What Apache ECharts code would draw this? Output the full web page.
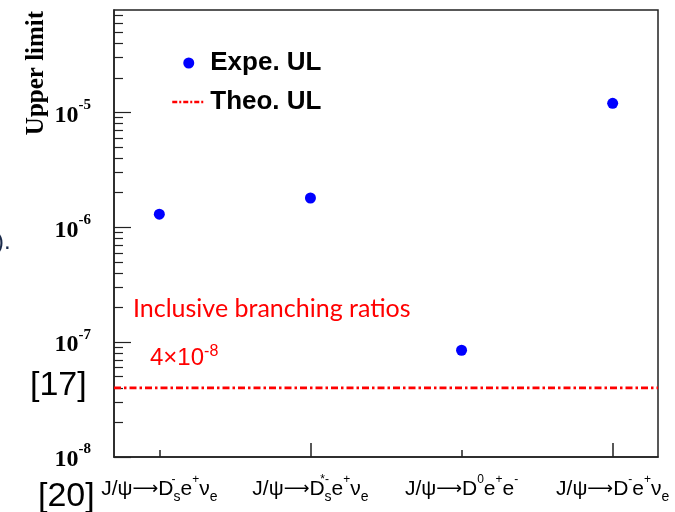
<!DOCTYPE html>
<html><head><meta charset="utf-8">
<script src="https://cdn.jsdelivr.net/npm/echarts@6/dist/echarts.min.js"></script>
<style>html,body{margin:0;padding:0;background:#fff}#c{width:675px;height:512px}</style>
</head><body><div id="c"></div>
<script>
// ---- data ----
const categoryLabels = [
  'J/ψ{ar|⟶}D{sp0|-}{sb|s}e{sp|+}ν{sb|e}',
  'J/ψ{ar|⟶}D{sp0|*-}{sb|s}e{sp|+}ν{sb|e}',
  'J/ψ{ar|⟶}D{sp|0}e{sp|+}e{sp|-}',
  'J/ψ{ar|⟶}D{sp|-}e{sp|+}ν{sb|e}'
];
const categoryPositions = [1, 2, 3, 4];
const expeUL = [1.3e-6, 1.8e-6, 8.5e-8, 1.2e-5];
const theoUL = 4e-8;
const yMajorTicks = [1e-8, 1e-7, 1e-6, 1e-5];
const yMinorTicks = [];
[1e-8, 1e-7, 1e-6, 1e-5].forEach(d => { for (let k = 2; k <= 9; k++) yMinorTicks.push(+(d * k).toPrecision(3)); });
const xLongTicks = [2, 4];
const xShortTicks = [1, 3];

const chart = echarts.init(document.getElementById('c'));
const axisCol = '#222';
const yMin = 1e-8, yMax = 7.8e-5, xMin = 0.7, xMax = 4.3;
const dashDot = [7, 3, 2.5, 3];

chart.setOption({
  animation: false,
  backgroundColor: '#fff',
  grid: { left: 114, right: 17, top: 10, bottom: 55, show: true, borderColor: axisCol, borderWidth: 1.5, outerBoundsMode: 'none' },
  legend: {
    orient: 'vertical', left: 166, top: 45, itemWidth: 33, itemHeight: 11, itemGap: 13,
    textStyle: { fontFamily: 'Liberation Sans', fontWeight: 'bold', fontSize: 26, lineHeight: 26, color: '#000' },
    data: [
      { name: 'Expe. UL' },
      { name: 'Theo. UL', itemStyle: { opacity: 0 }, lineStyle: { color: '#ff0000', width: 2.5, type: [5, 2, 2, 2], opacity: 1 } }
    ]
  },
  xAxis: [{
    type: 'value', min: xMin, max: xMax, position: 'bottom',
    axisLine: { lineStyle: { color: axisCol, width: 1.5 } },
    axisTick: { inside: true, length: 14, customValues: xLongTicks, lineStyle: { color: axisCol, width: 1.5 } },
    splitLine: { show: false },
    axisLabel: {
      customValues: categoryPositions, margin: 17,
      fontFamily: 'Liberation Sans', fontSize: 21, lineHeight: 30, color: '#000',
      formatter: v => categoryLabels[Math.round(v) - 1],
      rich: {
        ar: { fontFamily: 'DejaVu Sans', fontSize: 18, lineHeight: 30, color: '#000' },
        sb: { fontFamily: 'Liberation Sans', fontSize: 14, lineHeight: 14, verticalAlign: 'bottom', color: '#000' },
        sp: { fontFamily: 'Liberation Sans', fontSize: 12, lineHeight: 12, verticalAlign: 'top', color: '#000' },
        sp0: { fontFamily: 'Liberation Sans', fontSize: 12, lineHeight: 12, verticalAlign: 'top', width: 0, color: '#000' }
      }
    }
  }, {
    type: 'value', min: xMin, max: xMax, position: 'bottom',
    axisLine: { show: false },
    axisTick: { inside: true, length: 7, customValues: xShortTicks, lineStyle: { color: axisCol, width: 1.5 } },
    splitLine: { show: false }, axisLabel: { show: false }
  }],
  yAxis: [{
    type: 'log', min: yMin, max: yMax, position: 'left',
    axisLine: { show: true, lineStyle: { color: axisCol, width: 1.5 } },
    axisTick: { inside: true, length: 17, customValues: yMajorTicks, lineStyle: { color: axisCol, width: 1.2 } },
    splitLine: { show: false },
    axisLabel: {
      customValues: yMajorTicks, margin: 23,
      formatter: v => '{b|10}{e|' + Math.round(Math.log10(v)) + '}',
      rich: {
        b: { fontFamily: 'Liberation Serif', fontWeight: 'bold', fontSize: 24, lineHeight: 30, verticalAlign: 'bottom', color: '#000' },
        e: { fontFamily: 'Liberation Serif', fontWeight: 'bold', fontSize: 15, lineHeight: 15, verticalAlign: 'top', color: '#000' }
      }
    }
  }, {
    type: 'log', min: yMin, max: yMax, position: 'left',
    axisLine: { show: false },
    axisTick: { inside: true, length: 9, customValues: yMinorTicks, lineStyle: { color: axisCol, width: 1.2 } },
    splitLine: { show: false }, axisLabel: { show: false }
  }],
  series: [{
    name: 'Theo. UL', type: 'line', xAxisIndex: 0, yAxisIndex: 0, z: 2,
    symbol: 'none', showSymbol: false, silent: true,
    itemStyle: { color: '#ff0000' },
    lineStyle: { color: '#ff0000', width: 2.8, type: dashDot },
    data: [[xMin, theoUL], [xMax, theoUL]]
  }, {
    name: 'Expe. UL', type: 'scatter', xAxisIndex: 0, yAxisIndex: 0, z: 3,
    symbol: 'circle', symbolSize: 11, itemStyle: { color: '#0000ff', opacity: 1 },
    data: expeUL.map((v, i) => [categoryPositions[i], v])
  }],
  graphic: [
    { type: 'text', x: 37, y: 73, rotation: Math.PI / 2,
      style: { text: 'Upper limit', fontFamily: 'Liberation Serif', fontWeight: 'bold', fontSize: 25, fill: '#000', align: 'center', verticalAlign: 'middle' } },
    { type: 'text', x: 133, y: 309,
      style: { text: 'Inclusive branching ratios', fontFamily: 'Lato', fontSize: 25, fill: '#ff0000', align: 'left', verticalAlign: 'middle' } },
    { type: 'text', x: 150, y: 358,
      style: { text: '4×10{s|-8}', fontFamily: 'Liberation Sans', fontSize: 24, lineHeight: 28, fill: '#ff0000', align: 'left', verticalAlign: 'middle',
        rich: { s: { fontFamily: 'Liberation Sans', fontSize: 16, lineHeight: 16, verticalAlign: 'top', fill: '#ff0000' } } } },
    { type: 'text', x: 30, y: 386,
      style: { text: '[17]', fontFamily: 'Liberation Sans', fontSize: 34, fill: '#000', align: 'left', verticalAlign: 'middle' } },
    { type: 'text', x: 38, y: 497,
      style: { text: '[20]', fontFamily: 'Liberation Sans', fontSize: 34, fill: '#000', align: 'left', verticalAlign: 'middle' } },
    { type: 'text', x: -4, y: 242,
      style: { text: ').', fontFamily: 'Liberation Sans', fontSize: 24, fill: '#1a2a4a', align: 'left', verticalAlign: 'middle' } }
  ]
});
</script></body></html>
